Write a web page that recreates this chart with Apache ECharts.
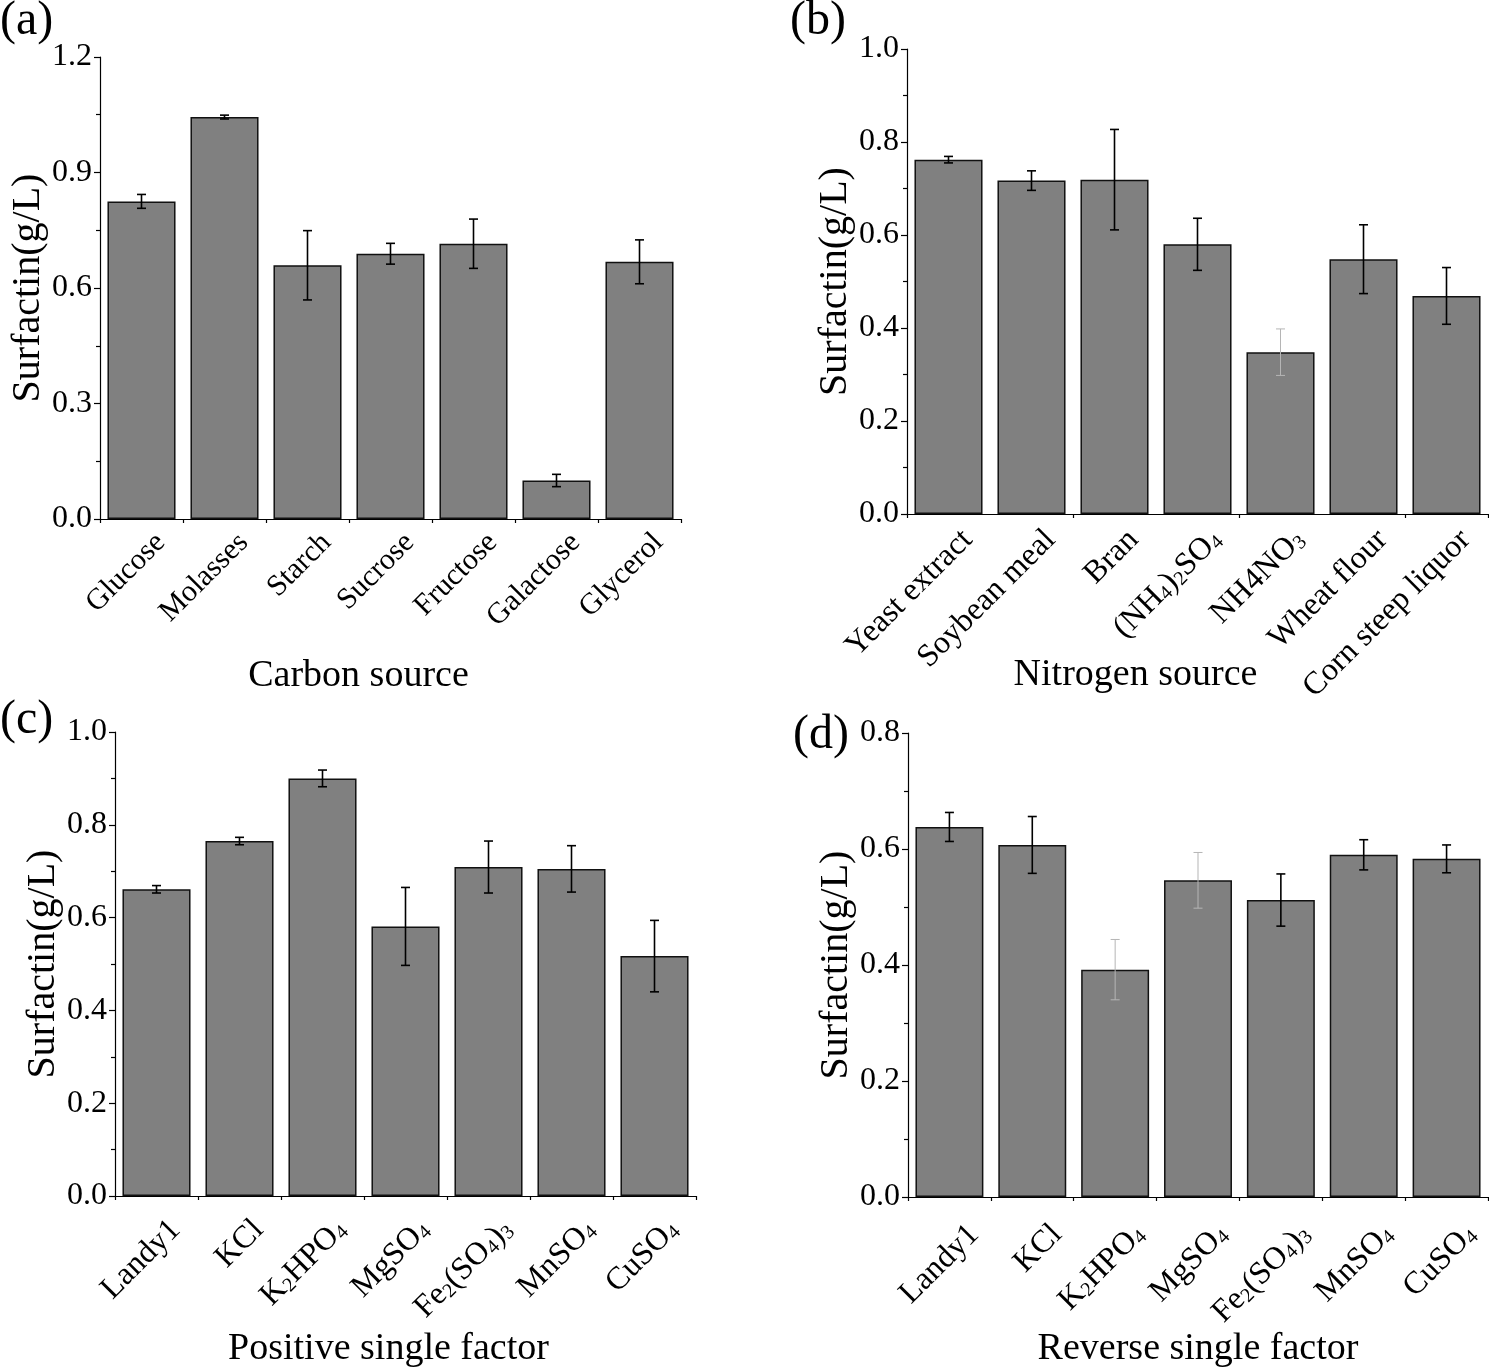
<!DOCTYPE html>
<html>
<head>
<meta charset="utf-8">
<script src="https://cdn.jsdelivr.net/npm/echarts@6/dist/echarts.min.js"></script>
<style>
html,body{margin:0;padding:0;background:#fff;}
#chart{width:1489px;height:1369px;}
</style>
</head>
<body>
<div id="chart"></div>
<script>
// ---- data ----
const catsA = ['Glucose','Molasses','Starch','Sucrose','Fructose','Galactose','Glycerol'];
const valsA = [0.825,1.044,0.659,0.689,0.715,0.100,0.668];
const errA  = [0.018,0.005,0.090,0.027,0.064,0.016,0.057];

const catsB = ['Yeast extract','Soybean meal','Bran','(NH₄)₂SO₄','NH4NO₃','Wheat flour','Corn steep liquor'];
const valsB = [0.762,0.717,0.719,0.580,0.348,0.548,0.469];
const errB  = [0.007,0.021,0.108,0.056,0.050,0.074,0.061];

const catsC = ['Landy1','KCl','K₂HPO₄','MgSO₄','Fe₂(SO₄)₃','MnSO₄','CuSO₄'];
const valsC = [0.661,0.765,0.900,0.581,0.709,0.705,0.517];
const errC  = [0.008,0.008,0.018,0.084,0.056,0.050,0.077];

const catsD = ['Landy1','KCl','K₂HPO₄','MgSO₄','Fe₂(SO₄)₃','MnSO₄','CuSO₄'];
const valsD = [0.638,0.607,0.392,0.546,0.512,0.590,0.583];
const errD  = [0.025,0.049,0.052,0.048,0.045,0.026,0.024];

const yMaxA = 1.2, yIntA = 0.3;
const yMaxB = 1.0, yIntB = 0.2;
const yMaxC = 1.0, yIntC = 0.2;
const yMaxD = 0.8, yIntD = 0.2;

const xNames = ['Carbon source','Nitrogen source','Positive single factor','Reverse single factor'];
const yName = 'Surfactin(g/L)';
const panelLetters = ['(a)','(b)','(c)','(d)'];

// ---- styling / layout ----
const FONT = 'Liberation Serif';
const faintErr = [[], [4], [], [2,3]];
const grids = [
  {left:100, top:57, right:808, bottom:850},
  {left:907, top:49, right:1, bottom:855},
  {left:115, top:732, right:793, bottom:173},
  {left:908, top:733, right:1, bottom:172}
];
const nameGaps = [138, 142, 134, 133];
const nameShift = [64, 124, 34, 0];
const labelFont = [30, 32, 32, 32];
const labelMargin = [0, 2, 10, 8];
const labelPad = [54, 54, 54, 70];
const letterPos = [[0,-3],[790,-3],[0,696],[793,711]];

const SUB = {'₀':'0','₁':'1','₂':'2','₃':'3','₄':'4','₅':'5','₆':'6','₇':'7','₈':'8','₉':'9'};
function richLabel(s) {
  let out = '', cur = '', curSub = null;
  for (const ch of s) {
    const isSub = ch in SUB;
    if (curSub !== null && isSub !== curSub) {
      out += '{' + (curSub ? 's' : 'n') + '|' + cur + '}';
      cur = '';
    }
    curSub = isSub;
    cur += isSub ? SUB[ch] : ch;
  }
  if (cur) out += '{' + (curSub ? 's' : 'n') + '|' + cur + '}';
  return out;
}

const panels = [
  {cats:catsA, vals:valsA, errs:errA, max:yMaxA, int:yIntA},
  {cats:catsB, vals:valsB, errs:errB, max:yMaxB, int:yIntB},
  {cats:catsC, vals:valsC, errs:errC, max:yMaxC, int:yIntC},
  {cats:catsD, vals:valsD, errs:errD, max:yMaxD, int:yIntD}
];

const chart = echarts.init(document.getElementById('chart'));
const xAxis = [], yAxis = [], series = [], title = [];

panels.forEach((p, i) => {
  xAxis.push({
    type:'category', gridIndex:i, data:p.cats,
    axisLine:{lineStyle:{color:'#000', width:1.2}},
    axisTick:{alignWithLabel:true, length:7, lineStyle:{color:'#000', width:1.2}},
    axisLabel:{rotate:45, margin:labelMargin[i], interval:0, padding:[labelPad[i],0,0,0],
      formatter:richLabel,
      rich:{
        n:{fontFamily:FONT, fontSize:labelFont[i], color:'#000'},
        s:{fontFamily:FONT, fontSize:Math.round(labelFont[i]*0.63), color:'#000', verticalAlign:'bottom'}
      }},
    name:xNames[i], nameLocation:'middle', nameGap:nameGaps[i], nameMoveOverlap:false,
    nameTextStyle:{fontFamily:FONT, fontSize:38, color:'#000', padding:[0, nameShift[i], 0, 0]}
  });
  yAxis.push({
    type:'value', gridIndex:i, min:0, max:p.max, interval:p.int,
    axisLine:{show:true, lineStyle:{color:'#000', width:1.2}},
    axisTick:{show:true, length:6, lineStyle:{color:'#000', width:1.2}},
    minorTick:{show:true, splitNumber:2, length:4, lineStyle:{color:'#000', width:1.2}},
    splitLine:{show:false},
    axisLabel:{margin:8, fontFamily:FONT, fontSize:32, color:'#000', formatter:v=>v.toFixed(1)},
    name:yName, nameLocation:'middle', nameGap:52, nameMoveOverlap:false,
    nameTextStyle:{fontFamily:FONT, fontSize:40, color:'#000'}
  });
  title.push({text:panelLetters[i], left:letterPos[i][0], top:letterPos[i][1], padding:0,
    textStyle:{fontFamily:FONT, fontSize:48, fontWeight:'normal', color:'#000'}});
});
// secondary x axes: minor ticks at category boundaries
panels.forEach((p, i) => {
  xAxis.push({
    type:'category', gridIndex:i, data:p.cats, position:'bottom',
    axisLine:{show:false}, axisLabel:{show:false},
    axisTick:{show:true, length:4, lineStyle:{color:'#000', width:1.2}}
  });
});

panels.forEach((p, i) => {
  series.push({
    type:'bar', xAxisIndex:i, yAxisIndex:i, data:p.vals, barCategoryGap:'18%',
    itemStyle:{color:'#808080', borderColor:'#111', borderWidth:1.5},
    silent:true
  });
  series.push({
    type:'custom', xAxisIndex:i, yAxisIndex:i, z:5, silent:true,
    data:p.vals.map((v, k) => [k, v, p.errs[k]]),
    renderItem:(params, api) => {
      const idx = api.value(0), v = api.value(1), e = api.value(2);
      const t = api.coord([idx, v + e]);
      const b = api.coord([idx, v - e]);
      const hw = 4.5;
      const faint = faintErr[i].indexOf(idx) >= 0;
      const st = {stroke: faint ? '#b5b5b5' : '#000', lineWidth: faint ? 1 : 1.6};
      return {type:'group', children:[
        {type:'line', shape:{x1:t[0], y1:t[1], x2:b[0], y2:b[1]}, style:st},
        {type:'line', shape:{x1:t[0]-hw, y1:t[1], x2:t[0]+hw, y2:t[1]}, style:st},
        {type:'line', shape:{x1:b[0]-hw, y1:b[1], x2:b[0]+hw, y2:b[1]}, style:st}
      ]};
    }
  });
});

chart.setOption({
  animation:false,
  backgroundColor:'#fff',
  title:title,
  grid:grids.map(g => Object.assign({containLabel:false}, g)),
  xAxis:xAxis, yAxis:yAxis, series:series
});
</script>
</body>
</html>
